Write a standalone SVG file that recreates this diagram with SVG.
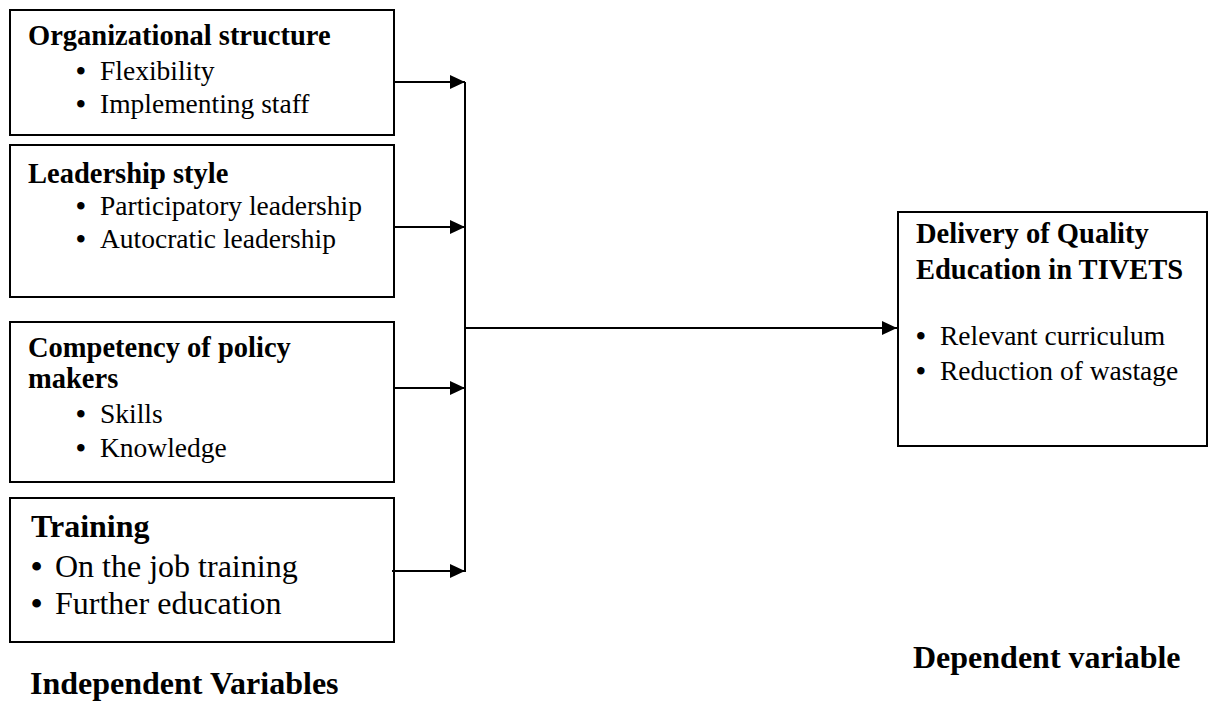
<svg xmlns="http://www.w3.org/2000/svg" width="1209" height="702" viewBox="0 0 1209 702">
<defs>
<marker id="ah" markerWidth="15" markerHeight="14" refX="15" refY="7" orient="auto" markerUnits="userSpaceOnUse">
<path d="M0,0 L15,7 L0,14 Z" fill="#000"/>
</marker>
<style>
.box{fill:#fff;stroke:#000;stroke-width:2}
.t{font-family:"Liberation Serif","Times New Roman",serif;font-size:27.5px;fill:#000}
.b{font-weight:bold;font-size:28.5px}
.big{font-size:32px}
.bu{font-weight:bold}
.ln{stroke:#000;stroke-width:2;fill:none}
</style>
</defs>
<rect width="1209" height="702" fill="#fff"/>
<g id="node-org">
<rect class="box" x="10" y="10" width="384" height="125"/>
<text class="t b" x="28" y="45">Organizational structure</text>
<text class="t" y="80"><tspan class="bu" x="76">•</tspan><tspan x="100">Flexibility</tspan></text>
<text class="t" y="113"><tspan class="bu" x="76">•</tspan><tspan x="100">Implementing staff</tspan></text>
</g>
<g id="node-lead">
<rect class="box" x="10" y="145" width="384" height="152"/>
<text class="t b" x="28" y="183">Leadership style</text>
<text class="t" y="215"><tspan class="bu" x="76">•</tspan><tspan x="100">Participatory leadership</tspan></text>
<text class="t" y="248"><tspan class="bu" x="76">•</tspan><tspan x="100">Autocratic leadership</tspan></text>
</g>
<g id="node-comp">
<rect class="box" x="10" y="322" width="384" height="160"/>
<text class="t b" x="28" y="357">Competency of policy</text>
<text class="t b" x="28" y="388">makers</text>
<text class="t" y="423"><tspan class="bu" x="76">•</tspan><tspan x="100">Skills</tspan></text>
<text class="t" y="457"><tspan class="bu" x="76">•</tspan><tspan x="100">Knowledge</tspan></text>
</g>
<g id="node-train">
<rect class="box" x="10" y="498" width="384" height="144"/>
<text class="t b big" x="31" y="537">Training</text>
<text class="t big" y="577"><tspan class="bu" x="31">•</tspan><tspan x="55">On the job training</tspan></text>
<text class="t big" y="614"><tspan class="bu" x="31">•</tspan><tspan x="55">Further education</tspan></text>
</g>
<g id="node-dep">
<rect class="box" x="898" y="212" width="309" height="234"/>
<text class="t b" x="916" y="243">Delivery of Quality</text>
<text class="t b" x="916" y="279">Education in TIVETS</text>
<text class="t" y="345"><tspan class="bu" x="916">•</tspan><tspan x="940">Relevant curriculum</tspan></text>
<text class="t" y="380"><tspan class="bu" x="916">•</tspan><tspan x="940">Reduction of wastage</tspan></text>
</g>
<g id="labels">
<text class="t b big" x="30" y="694">Independent Variables</text>
<text class="t b big" x="913" y="668">Dependent variable</text>
</g>
<g id="connectors">
<line class="ln" x1="394" y1="82" x2="465" y2="82" marker-end="url(#ah)"/>
<line class="ln" x1="394" y1="227" x2="465" y2="227" marker-end="url(#ah)"/>
<line class="ln" x1="394" y1="388" x2="465" y2="388" marker-end="url(#ah)"/>
<line class="ln" x1="392" y1="571" x2="465" y2="571" marker-end="url(#ah)"/>
<line class="ln" x1="465" y1="82" x2="465" y2="572"/>
<line class="ln" x1="465" y1="328" x2="897" y2="328" marker-end="url(#ah)"/>
</g>
</svg>
